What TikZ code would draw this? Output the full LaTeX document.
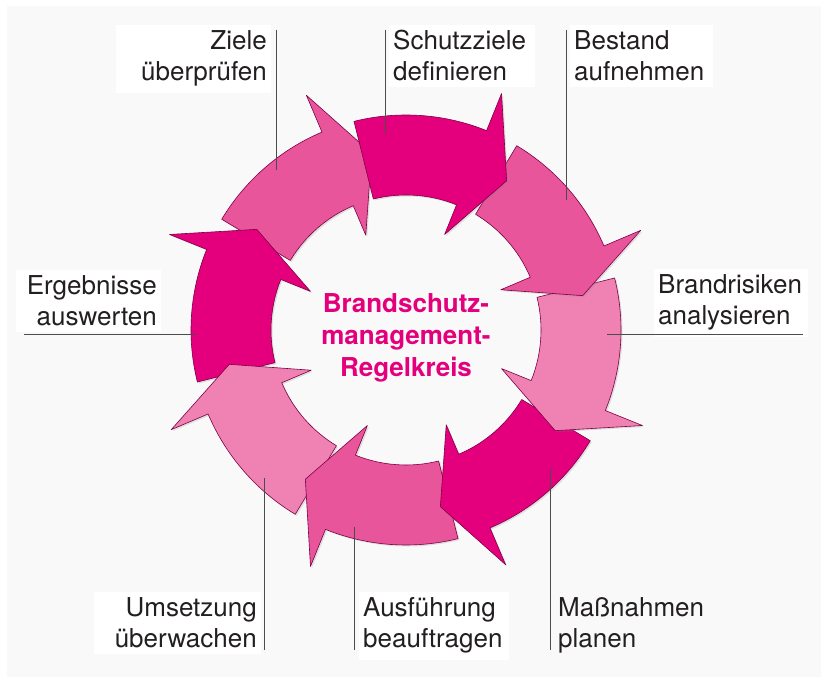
\documentclass[tikz,border=0pt]{standalone}
\usepackage{fontspec}
\setmainfont{TeX Gyre Heros}
\usetikzlibrary{shadows}

\definecolor{pinkdark}{RGB}{228,0,124}
\definecolor{pinkmid}{RGB}{233,85,155}
\definecolor{pinklight}{RGB}{239,130,178}
\definecolor{panel}{RGB}{249,249,249}
\definecolor{ink}{RGB}{35,31,32}

\tikzstyle{segment}=[draw=pinkdark!55!black, line width=0.6pt, line join=round, drop shadow={opacity=0.22, shadow xshift=1.5pt, shadow yshift=-1.5pt}]
\tikzstyle{captionbox}=[fill=white, text=ink, inner xsep=4pt, inner ysep=6pt, font=\fontsize{26}{31}\selectfont]
\tikzstyle{hubtext}=[text=pinkdark, align=center, font=\bfseries\fontsize{26}{32}\selectfont]
\tikzstyle{leaderline}=[draw=black!70, line width=1pt]

\begin{document}
\begin{tikzpicture}[x=1pt, y=1pt]
			%Background with the white rim
			\fill[white] (0,0) rectangle (827,682);
			\fill[panel] (7,5) rectangle (821,676);
			%The ring of arrows, each head lying over the next tail
			\begin{scope}[shift={(406,352)}]
			\foreach \ang/\col [evaluate=\ang as \tail using \ang+36, evaluate=\ang as \tip using \ang-12] in
									{113/pinkmid,	158/pinkdark,	203/pinklight,	248/pinkmid,
									 293/pinkdark,	338/pinklight,	383/pinkmid,	428/pinkdark}
			\path[segment, fill=\col] (\tail:215) arc[start angle=\tail, end angle=\ang, radius=215]
				-- (\ang:255) -- (\tip:180) -- (\ang:103) -- (\ang:135)
				arc[start angle=\ang, end angle=\tail, radius=135] -- cycle;
			\end{scope}
			%Title in the middle
			\node[hubtext] (title) at (406,344) {Brandschutz-\\management-\\Regelkreis};
			%Labels flush right
			\foreach \pos/\name/\boxw/\txt in 	{{(271,632)/ziele/147/{Ziele\\überprüfen}},
												 {(161,387)/ergebnisse/137/{Ergebnisse\\auswerten}},
												 {(261,65)/umsetzung/159/{Umsetzung\\überwachen}}}
			\node[captionbox, anchor=base east, align=right, text width=\boxw pt] (\name) at \pos {\txt};
			%Labels flush left
			\foreach \pos/\name/\boxw/\txt in 	{{(389,632)/schutzziele/138/{Schutzziele\\definieren}},
												 {(570,632)/bestand/135/{Bestand\\aufnehmen}},
												 {(654,388)/brandrisiken/146/{Brandrisiken\\analysieren}},
												 {(359,65)/ausfuehrung/142/{Ausführung\\beauftragen}}}
			\node[captionbox, anchor=base west, align=left, text width=\boxw pt] (\name) at \pos {\txt};
			\node[captionbox, fill=panel, anchor=base west, align=left, text width=146pt] (massnahmen) at (554,65) {Maßnahmen\\planen};
			%Ends of the leader lines
			\foreach \pos/\name in 	{{(276,652)/ziele-a},		{(276,512)/ziele-b},
									 {(385,652)/schutzziele-a},	{(385,548)/schutzziele-b},
									 {(566,652)/bestand-a},		{(566,482)/bestand-b},
									 {(803,347)/brandrisiken-a},	{(607,347)/brandrisiken-b},
									 {(550,32)/massnahmen-a},	{(550,214)/massnahmen-b},
									 {(354,32)/ausfuehrung-a},	{(354,155)/ausfuehrung-b},
									 {(264,32)/umsetzung-a},		{(264,204)/umsetzung-b},
									 {(24,347)/ergebnisse-a},	{(196,347)/ergebnisse-b}}
			\node[coordinate] (\name) at \pos {};
			\foreach \from/\to in {ziele-a/ziele-b, schutzziele-a/schutzziele-b, bestand-a/bestand-b,
								   brandrisiken-a/brandrisiken-b, massnahmen-a/massnahmen-b,
								   ausfuehrung-a/ausfuehrung-b, umsetzung-a/umsetzung-b, ergebnisse-a/ergebnisse-b}
			\draw[leaderline] (\from) -- (\to);
\end{tikzpicture}
\end{document}
